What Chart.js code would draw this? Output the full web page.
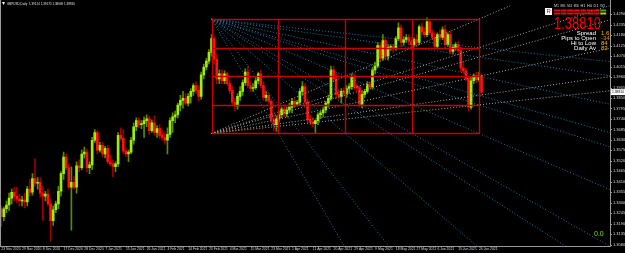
<!DOCTYPE html>
<html>
<head>
<meta charset="utf-8">
<script src="https://cdn.jsdelivr.net/npm/chart.js@4.4.0/dist/chart.umd.min.js"></script>
<style>
  html, body { margin: 0; padding: 0; background: #000; overflow: hidden; }
</style>
</head>
<body>
<canvas id="chart" width="625" height="253"></canvas>
<script>
// GBPUSD daily candles
const open = [1.3268,1.3227,1.3268,1.3288,1.3324,1.3355,1.3334,1.3319,1.3309,1.3314,
  1.3304,1.3371,1.3355,1.3427,1.3402,1.3407,1.3350,1.3334,1.3345,1.3294,
  1.3206,1.3263,1.3294,1.3360,1.3453,1.3540,1.3484,1.3381,1.3407,1.3381,
  1.3494,1.3484,1.3556,1.3566,1.3484,1.3499,1.3628,1.3669,1.3576,1.3602,
  1.3556,1.3586,1.3515,1.3504,1.3489,1.3504,1.3654,1.3638,1.3571,1.3556,
  1.3566,1.3628,1.3699,1.3731,1.3710,1.3715,1.3731,1.3741,1.3679,1.3720,
  1.3669,1.3689,1.3654,1.3643,1.3628,1.3659,1.3731,1.3751,1.3762,1.3813,
  1.3838,1.3848,1.3823,1.3859,1.3885,1.3916,1.3890,1.3859,1.3972,1.4013,
  1.4044,1.4090,1.4162,1.4054,1.3951,1.3977,1.3941,1.3977,1.3926,1.3890,
  1.3828,1.3808,1.3859,1.3885,1.3931,1.3987,1.3916,1.3900,1.3905,1.3941,
  1.3977,1.3916,1.3853,1.3864,1.3833,1.3736,1.3710,1.3741,1.3762,1.3792,
  1.3767,1.3787,1.3802,1.3833,1.3818,1.3828,1.3885,1.3910,1.3828,1.3736,
  1.3725,1.3715,1.3731,1.3762,1.3772,1.3787,1.3823,1.3848,1.3998,1.3951,
  1.3869,1.3859,1.3885,1.3874,1.3900,1.3910,1.3962,1.3910,1.3905,1.3818,
  1.3869,1.3885,1.3921,1.3910,1.3998,1.4018,1.4126,1.4059,1.4152,1.4070,
  1.4116,1.4121,1.4110,1.4162,1.4219,1.4142,1.4157,1.4168,1.4147,1.4131,
  1.4157,1.4142,1.4224,1.4198,1.4183,1.4250,1.4193,1.4168,1.4121,1.4183,
  1.4168,1.4208,1.4131,1.4183,1.4095,1.4116,1.4131,1.4100,1.4008,1.3993,
  1.3951,1.3802,1.3941,1.3967,1.3946,1.3967];
const high = [1.3283,1.3278,1.3309,1.3350,1.3371,1.3381,1.3381,1.3345,1.3334,1.3350,
  1.3386,1.3422,1.3453,1.3530,1.3432,1.3432,1.3386,1.3360,1.3371,1.3319,
  1.3283,1.3309,1.3386,1.3463,1.3566,1.3556,1.3504,1.3489,1.3437,1.3515,
  1.3525,1.3576,1.3592,1.3581,1.3515,1.3643,1.3684,1.3679,1.3617,1.3617,
  1.3596,1.3602,1.3551,1.3525,1.3515,1.3669,1.3694,1.3684,1.3586,1.3576,
  1.3643,1.3720,1.3746,1.3746,1.3731,1.3751,1.3762,1.3757,1.3736,1.3757,
  1.3705,1.3710,1.3679,1.3669,1.3694,1.3746,1.3772,1.3782,1.3823,1.3864,
  1.3885,1.3874,1.3874,1.3900,1.3926,1.3936,1.3916,1.3987,1.4029,1.4059,
  1.4105,1.4183,1.4173,1.4080,1.3998,1.3998,1.3993,1.3987,1.3946,1.3910,
  1.3848,1.3874,1.3910,1.3946,1.4003,1.4018,1.3936,1.3926,1.3957,1.3987,
  1.3998,1.3936,1.3885,1.3874,1.3844,1.3762,1.3757,1.3782,1.3802,1.3813,
  1.3802,1.3823,1.3848,1.3844,1.3838,1.3900,1.3936,1.3926,1.3844,1.3762,
  1.3746,1.3736,1.3772,1.3782,1.3802,1.3833,1.3864,1.4018,1.4018,1.3977,
  1.3895,1.3900,1.3905,1.3916,1.3926,1.3977,1.3977,1.3926,1.3916,1.3885,
  1.3895,1.3936,1.3936,1.4013,1.4039,1.4142,1.4142,1.4183,1.4162,1.4131,
  1.4131,1.4131,1.4173,1.4245,1.4234,1.4173,1.4183,1.4183,1.4168,1.4168,
  1.4183,1.4234,1.4245,1.4219,1.4271,1.4260,1.4208,1.4193,1.4193,1.4208,
  1.4224,1.4234,1.4193,1.4203,1.4131,1.4142,1.4147,1.4116,1.4039,1.4008,
  1.3967,1.3957,1.3977,1.3987,1.3987,1.3977];
const low = [1.3175,1.3206,1.3248,1.3258,1.3294,1.3309,1.3299,1.3283,1.3283,1.3273,
  1.3283,1.3334,1.3339,1.3386,1.3371,1.3329,1.3206,1.3309,1.3283,1.3098,
  1.3180,1.3248,1.3268,1.3334,1.3422,1.3473,1.3371,1.3155,1.3371,1.3350,
  1.3463,1.3473,1.3535,1.3463,1.3453,1.3473,1.3617,1.3556,1.3566,1.3540,
  1.3535,1.3504,1.3494,1.3437,1.3463,1.3489,1.3628,1.3556,1.3540,1.3515,
  1.3556,1.3607,1.3679,1.3694,1.3689,1.3643,1.3699,1.3659,1.3669,1.3654,
  1.3643,1.3638,1.3628,1.3607,1.3556,1.3643,1.3669,1.3720,1.3746,1.3782,
  1.3797,1.3813,1.3808,1.3823,1.3864,1.3874,1.3833,1.3844,1.3951,1.3998,
  1.4029,1.4070,1.4029,1.3926,1.3926,1.3926,1.3926,1.3916,1.3874,1.3813,
  1.3782,1.3792,1.3838,1.3864,1.3916,1.3905,1.3885,1.3885,1.3895,1.3926,
  1.3905,1.3838,1.3833,1.3823,1.3720,1.3679,1.3674,1.3725,1.3746,1.3751,
  1.3751,1.3772,1.3772,1.3802,1.3808,1.3813,1.3864,1.3813,1.3720,1.3710,
  1.3699,1.3664,1.3710,1.3741,1.3751,1.3772,1.3802,1.3838,1.3936,1.3853,
  1.3844,1.3823,1.3864,1.3853,1.3874,1.3895,1.3895,1.3885,1.3802,1.3797,
  1.3853,1.3874,1.3895,1.3895,1.3977,1.4008,1.4044,1.4049,1.4054,1.4049,
  1.4100,1.4090,1.4100,1.4152,1.4121,1.4126,1.4142,1.4131,1.4105,1.4121,
  1.4121,1.4131,1.4183,1.4168,1.4173,1.4183,1.4157,1.4105,1.4110,1.4157,
  1.4157,1.4110,1.4121,1.4080,1.4080,1.4100,1.4090,1.3987,1.3977,1.3941,
  1.3782,1.3792,1.3926,1.3931,1.3936,1.3864];
const close = [1.3227,1.3268,1.3288,1.3324,1.3355,1.3334,1.3319,1.3309,1.3314,1.3304,
  1.3371,1.3355,1.3427,1.3402,1.3407,1.3350,1.3334,1.3345,1.3294,1.3206,
  1.3263,1.3294,1.3360,1.3453,1.3540,1.3484,1.3381,1.3407,1.3381,1.3494,
  1.3484,1.3556,1.3566,1.3484,1.3499,1.3628,1.3669,1.3576,1.3602,1.3556,
  1.3586,1.3515,1.3504,1.3489,1.3504,1.3654,1.3638,1.3571,1.3556,1.3566,
  1.3628,1.3699,1.3731,1.3710,1.3715,1.3731,1.3741,1.3679,1.3720,1.3669,
  1.3689,1.3654,1.3643,1.3628,1.3659,1.3731,1.3751,1.3762,1.3813,1.3838,
  1.3848,1.3823,1.3859,1.3885,1.3916,1.3890,1.3859,1.3972,1.4013,1.4044,
  1.4090,1.4162,1.4054,1.3951,1.3977,1.3941,1.3977,1.3926,1.3890,1.3828,
  1.3808,1.3859,1.3885,1.3931,1.3987,1.3916,1.3900,1.3905,1.3941,1.3977,
  1.3916,1.3853,1.3864,1.3833,1.3736,1.3710,1.3741,1.3762,1.3792,1.3767,
  1.3787,1.3802,1.3833,1.3818,1.3828,1.3885,1.3910,1.3828,1.3736,1.3725,
  1.3715,1.3731,1.3762,1.3772,1.3787,1.3823,1.3848,1.3998,1.3951,1.3869,
  1.3859,1.3885,1.3874,1.3900,1.3910,1.3962,1.3910,1.3905,1.3818,1.3869,
  1.3885,1.3921,1.3910,1.3998,1.4018,1.4126,1.4059,1.4152,1.4070,1.4116,
  1.4121,1.4110,1.4162,1.4219,1.4142,1.4157,1.4168,1.4147,1.4131,1.4157,
  1.4142,1.4224,1.4198,1.4183,1.4250,1.4193,1.4168,1.4121,1.4183,1.4168,
  1.4208,1.4131,1.4183,1.4095,1.4116,1.4131,1.4100,1.4008,1.3993,1.3951,
  1.3802,1.3941,1.3967,1.3946,1.3967,1.3881];

// chart shift: empty bars to the right of the last candle
const emptyBars = 49;

const xTickLabels = ['23 Nov 2020','29 Nov 2020','8 Dec 2020','17 Dec 2020','28 Dec 2020',
  '7 Jan 2021','15 Jan 2021','26 Jan 2021','4 Feb 2021','14 Feb 2021','23 Feb 2021',
  '4 Mar 2021','15 Mar 2021','23 Mar 2021','1 Apr 2021','11 Apr 2021','20 Apr 2021',
  '29 Apr 2021','9 May 2021','18 May 2021','27 May 2021','6 Jun 2021','15 Jun 2021','24 Jun 2021'];
const labelEvery = 8;

const priceTicks = [1.4290,1.4235,1.4180,1.4125,1.4070,1.4015,1.3960,1.3905,1.3850,1.3795,
  1.3740,1.3685,1.3630,1.3575,1.3520,1.3465,1.3410,1.3355,1.3300,1.3245,1.3190,1.3135,1.3080];
const priceMin = 1.30724, priceMax = 1.43368;

// gann box: first bar, last bar, top and bottom price
const boxStart = 81, boxEnd = 184;
const boxTop = 1.4265, boxBottom = 1.3664;
const fanRatios = [1/4, 1/3, 1/2, 2/3, 3/4, 1, 4/3, 3/2, 2, 3, 4];
const riseRatios = [1/4, 1/3, 1/2, 2/3, 3/4, 1];

const lastPrice = 1.38810;
const titleText = 'GBPUSD,Daily  1.39124 1.39170 1.38669 1.38810';
const infoLabels = ['Spread', 'Pips to Open', 'Hi to Low', 'Daily Av'];
const infoValues = ['1.6', '-34', '84', '83'];
const tfNames = ['M1', 'M5', 'M15', 'M30', 'H1', 'H4', 'D1', 'W1'];

const barLabels = [];
for (let i = 0; i < open.length + emptyBars; i++) barLabels.push(i);

const bodies = open.map((o, i) => [o, close[i]]);
const wicks = low.map((l, i) => [l, high[i]]);
const bodyColors = open.map((o, i) => close[i] >= o ? '#9cf000' : '#ff1010');
const wickColors = open.map((o, i) => close[i] >= o ? '#5a8a00' : '#a00000');

const FONT = 'Liberation Sans';

function drawText(ctx, txt, x, y, size, color, width, align) {
  ctx.save();
  ctx.font = size + 'px ' + FONT;
  ctx.fillStyle = color;
  ctx.textBaseline = 'middle';
  ctx.textAlign = 'left';
  const m = ctx.measureText(txt).width;
  const sx = width ? width / m : 1;
  const left = align === 'right' ? x - m * sx : x;
  ctx.translate(left, y);
  ctx.scale(sx, 1);
  ctx.fillText(txt, 0, 0);
  ctx.restore();
}

const overlay = {
  id: 'overlay',
  afterDatasetsDraw(chart) {
    const { ctx, chartArea: a, scales: { x, y } } = chart;
    const x0 = x.getPixelForValue(boxStart), x1 = x.getPixelForValue(boxEnd);
    const yT = y.getPixelForValue(boxTop), yB = y.getPixelForValue(boxBottom);
    const w = x1 - x0, h = yB - yT;

    ctx.save();
    ctx.beginPath();
    ctx.rect(a.left, a.top, a.right - a.left, a.bottom - a.top);
    ctx.clip();
    ctx.lineWidth = 1;

    // fan from top-left corner, going down
    ctx.setLineDash([1, 2]);
    ctx.strokeStyle = '#1c7aa8';
    fanRatios.forEach(r => {
      ctx.beginPath();
      ctx.moveTo(x0, yT);
      ctx.lineTo(x0 + w * 10, yT + h * r * 10);
      ctx.stroke();
    });
    // fan from bottom-left corner, going up
    ctx.strokeStyle = '#a9a9a9';
    riseRatios.forEach(r => {
      ctx.beginPath();
      ctx.moveTo(x0, yB);
      ctx.lineTo(x0 + w * 10, yB - h * r * 10);
      ctx.stroke();
    });

    // 4x4 box grid
    ctx.setLineDash([]);
    ctx.strokeStyle = '#c80000';
    ctx.lineWidth = 1.4;
    const gxs = [], gys = [];
    for (let k = 0; k <= 4; k++) {
      gxs.push(Math.round(x0 + w * k / 4) + 0.5);
      gys.push(Math.round(yT + h * k / 4) + 0.5);
    }
    ctx.beginPath();
    gxs.forEach(gx => { ctx.moveTo(gx, gys[0]); ctx.lineTo(gx, gys[4]); });
    gys.forEach(gy => { ctx.moveTo(gxs[0], gy); ctx.lineTo(gxs[4], gy); });
    ctx.stroke();
    ctx.restore();

    ctx.save();
    // axis lines
    ctx.strokeStyle = '#9a9a9a';
    ctx.lineWidth = 1;
    ctx.beginPath();
    ctx.moveTo(a.right + 0.5, 0); ctx.lineTo(a.right + 0.5, a.bottom + 0.5);
    ctx.lineTo(0, a.bottom + 0.5);
    ctx.moveTo(0.5, 0); ctx.lineTo(0.5, a.bottom);
    ctx.stroke();
    priceTicks.forEach(v => {
      const ty = Math.round(y.getPixelForValue(v)) + 0.5;
      ctx.beginPath(); ctx.moveTo(a.right, ty); ctx.lineTo(a.right + 2, ty); ctx.stroke();
    });

    // current price box
    const py = y.getPixelForValue(lastPrice);
    ctx.fillStyle = '#ffffff';
    ctx.fillRect(a.right + 1, py - 3, 625 - a.right - 1, 6);
    drawText(ctx, lastPrice.toFixed(5), a.right + 2, py, 4, '#000000', 12);

    // title
    ctx.fillStyle = '#ffffff';
    ctx.beginPath(); ctx.moveTo(2, 2); ctx.lineTo(5, 2); ctx.lineTo(3.5, 5); ctx.fill();
    drawText(ctx, titleText, 7, 3.5, 4, '#e0e0e0', 68);

    // timeframe table
    ctx.fillStyle = '#ffffff';
    ctx.fillRect(545, 8, 7, 7);
    drawText(ctx, 'R', 546.5, 11.6, 6, '#d00000');
    tfNames.forEach((n, i) => {
      const cx = 554 + i * 6.6;
      drawText(ctx, n, cx, 6.5, 2.6, '#dddddd', 5);
      ctx.fillStyle = i === tfNames.length - 1 ? '#30b030' : '#e01010';
      ctx.fillRect(cx, 9.5, 6, 2);
      ctx.fillStyle = i === tfNames.length - 1 ? '#c8c800' : '#e01010';
      ctx.fillRect(cx, 12.5, 6, 2);
    });

    // big price and info lines
    drawText(ctx, lastPrice.toFixed(5), 554, 24.5, 17, '#ff0000', 47);
    infoLabels.forEach((t, i) => {
      const ly = 33 + i * 5;
      drawText(ctx, t, 596, ly, 6, '#ffffff', 0, 'right');
      drawText(ctx, infoValues[i], 601, ly, 6, i === 1 ? '#ff7a00' : '#ffae00');
    });

    drawText(ctx, '0.0', 594, 234.5, 7, '#80e000');
    ctx.restore();
  }
};

new Chart(document.getElementById('chart'), {
  type: 'bar',
  data: {
    labels: barLabels,
    datasets: [
      {
        label: 'body',
        data: bodies,
        backgroundColor: bodyColors,
        barThickness: 2,
        minBarLength: 1,
        grouped: false,
        order: 0
      },
      {
        label: 'wick',
        data: wicks,
        backgroundColor: wickColors,
        barThickness: 1,
        grouped: false,
        order: 1
      }
    ]
  },
  options: {
    responsive: false,
    animation: false,
    layout: { padding: 0 },
    plugins: {
      legend: { display: false },
      tooltip: { enabled: false }
    },
    scales: {
      x: {
        grid: { display: false, drawTicks: false },
        border: { display: false },
        ticks: {
          autoSkip: false,
          maxRotation: 0,
          minRotation: 0,
          align: 'start',
          padding: 1,
          color: '#d8d8d8',
          font: { family: FONT, size: 3.4 },
          callback: (value, index) => index % labelEvery === 0 ? (xTickLabels[index / labelEvery] || '') : ''
        },
        afterFit: scale => { scale.height = 7; }
      },
      y: {
        position: 'right',
        min: priceMin,
        max: priceMax,
        grid: { display: false, drawTicks: false },
        border: { display: false },
        afterBuildTicks: scale => { scale.ticks = priceTicks.map(v => ({ value: v })); },
        ticks: {
          padding: 3,
          color: '#d8d8d8',
          font: { family: FONT, size: 4 },
          callback: v => v.toFixed(4)
        },
        afterFit: scale => { scale.width = 15; }
      }
    }
  },
  plugins: [overlay]
});
</script>
</body>
</html>
